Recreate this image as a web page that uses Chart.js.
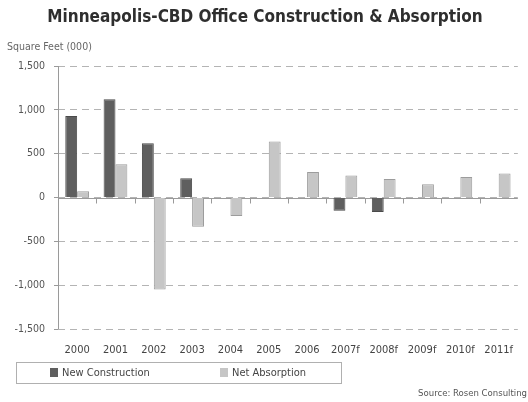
<!DOCTYPE html>
<html>
<head>
<meta charset="utf-8">
<script src="https://cdn.jsdelivr.net/npm/chart.js@4/dist/chart.umd.min.js"></script>
<style>
  html, body { margin: 0; padding: 0; background: #fff; }
  #wrap { position: relative; width: 528px; height: 402px; }
</style>
</head>
<body>
<div id="wrap"><canvas id="officeChart" width="528" height="402"></canvas></div>
<script>
const years = ["2000", "2001", "2002", "2003", "2004", "2005", "2006", "2007f", "2008f", "2009f", "2010f", "2011f"];
const newConstruction = [930, 1120, 620, 220, null, null, null, -150, -165, null, null, null];
const netAbsorption = [70, 380, -1050, -335, -210, 640, 290, 250, 210, 150, 235, 275];
const yTicks = [-1500, -1000, -500, 0, 500, 1000, 1500];

const chartTitle = "Minneapolis-CBD Office Construction & Absorption";
const unitLabel = "Square Feet (000)";
const sourceNote = "Source: Rosen Consulting";

const NARROW = "'Liberation Sans Narrow', 'DejaVu Sans Condensed', sans-serif";
const DARK = "#5f5f5f";
const LIGHT = "#c6c6c6";

// title, unit label, zero line, boxed legend and source note
const extras = {
  id: "extras",
  beforeDatasetsDraw(chart) {
    const { ctx, chartArea, scales } = chart;
    const x = scales.x, y = scales.y;
    const y0 = Math.round(y.getPixelForValue(0)) + 0.5;
    ctx.save();
    ctx.strokeStyle = "#9a9a9a";
    ctx.lineWidth = 1;
    ctx.beginPath();
    ctx.moveTo(chartArea.left, y0);
    ctx.lineTo(chartArea.right, y0);
    // small marks between years, hanging under the zero line
    for (let i = 1; i < years.length; i++) {
      const bx = Math.round((x.getPixelForValue(i - 1) + x.getPixelForValue(i)) / 2) + 0.5;
      ctx.moveTo(bx, y0);
      ctx.lineTo(bx, y0 + 5);
    }
    const ax = Math.round(chartArea.left) + 0.5;
    ctx.moveTo(ax, chartArea.top);
    ctx.lineTo(ax, chartArea.bottom);
    ctx.stroke();
    ctx.restore();
  },
  afterDraw(chart) {
    const { ctx } = chart;
    ctx.save();

    ctx.fillStyle = "#2e2e2e";
    ctx.font = "bold 17px " + NARROW;
    ctx.textAlign = "center";
    ctx.textBaseline = "middle";
    ctx.fillText(chartTitle, 265, 18);

    ctx.fillStyle = "#666";
    ctx.font = "10.5px " + NARROW;
    ctx.textAlign = "left";
    ctx.fillText(unitLabel, 7, 47);

    // legend box
    ctx.strokeStyle = "#b0b0b0";
    ctx.lineWidth = 1;
    ctx.strokeRect(16.5, 362.5, 325, 21);
    const items = [
      { label: "New Construction", color: DARK, x: 50 },
      { label: "Net Absorption", color: LIGHT, x: 220 }
    ];
    ctx.font = "11px " + NARROW;
    items.forEach(it => {
      ctx.fillStyle = it.color;
      ctx.fillRect(it.x, 368, 8, 9);
      ctx.fillStyle = "#444";
      ctx.fillText(it.label, it.x + 12, 373);
    });

    ctx.fillStyle = "#555";
    ctx.font = "9.5px " + NARROW;
    ctx.textAlign = "right";
    ctx.fillText(sourceNote, 527, 394);
    ctx.restore();
  }
};

const ctx = document.getElementById("officeChart").getContext("2d");

new Chart(ctx, {
  type: "bar",
  data: {
    labels: years,
    datasets: [
      {
        label: "New Construction",
        data: newConstruction,
        backgroundColor: DARK,
        borderColor: "#4a4a4a",
        borderWidth: 1
      },
      {
        label: "Net Absorption",
        data: netAbsorption,
        backgroundColor: LIGHT,
        borderColor: "#9c9c9c",
        borderWidth: 1
      }
    ]
  },
  options: {
    responsive: false,
    animation: false,
    devicePixelRatio: 1,
    layout: { padding: { top: 66, left: 0, right: 0, bottom: 0 } },
    datasets: {
      bar: { categoryPercentage: 0.62, barPercentage: 1 }
    },
    plugins: {
      legend: { display: false },
      title: { display: false },
      tooltip: { enabled: false }
    },
    scales: {
      x: {
        afterFit: s => { s.height = 73; },
        grid: { display: false, drawTicks: false },
        border: { display: false },
        ticks: {
          padding: 15,
          color: "#444",
          font: { family: NARROW, size: 11 }
        }
      },
      y: {
        min: -1500,
        max: 1500,
        afterFit: s => { s.width = 58; },
        afterBuildTicks: s => { s.ticks = yTicks.map(v => ({ value: v })); },
        grid: {
          color: "#b4b4b4",
          tickColor: "#9a9a9a",
          tickLength: 4
        },
        border: { display: false, dash: [7, 5] },
        ticks: {
          padding: 9,
          color: "#555",
          font: { family: NARROW, size: 10.5 },
          callback: v => v.toLocaleString("en-US")
        }
      }
    }
  },
  plugins: [extras]
});
</script>
</body>
</html>
